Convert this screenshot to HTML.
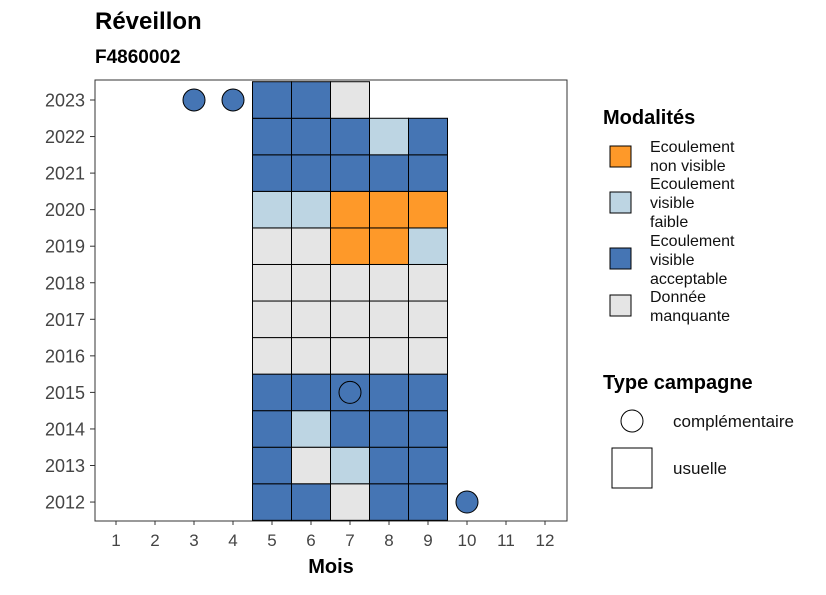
<!DOCTYPE html>
<html><head><meta charset="utf-8"><style>body{margin:0;background:#fff}svg{font-family:"Liberation Sans",sans-serif}</style></head>
<body>
<svg id="c" width="826" height="590">
<text x="95" y="29" font-size="24" font-weight="bold" fill="#000">Réveillon</text>
<text x="95" y="63" font-size="19" font-weight="bold" fill="#000">F4860002</text>
<rect x="95" y="80" width="472" height="441" fill="#fff" stroke="#333" stroke-width="1"/>
<g id="tiles"></g><g id="pts"></g><g id="axes"></g>
<text x="331" y="573" font-size="20" font-weight="bold" text-anchor="middle">Mois</text>
<g>
<text x="603" y="124" font-size="20" font-weight="bold">Modalités</text>
<rect x="610" y="146" width="21" height="21" fill="#fe9929" stroke="#000"/>
<text font-size="16" fill="#111"><tspan x="650" y="152">Ecoulement</tspan><tspan x="650" y="171">non visible</tspan></text>
<rect x="610" y="192" width="21" height="21" fill="#bdd5e3" stroke="#000"/>
<text font-size="16" fill="#111"><tspan x="650" y="189">Ecoulement</tspan><tspan x="650" y="208">visible</tspan><tspan x="650" y="227">faible</tspan></text>
<rect x="610" y="248" width="21" height="21" fill="#4575b4" stroke="#000"/>
<text font-size="16" fill="#111"><tspan x="650" y="246">Ecoulement</tspan><tspan x="650" y="265">visible</tspan><tspan x="650" y="284">acceptable</tspan></text>
<rect x="610" y="295" width="21" height="21" fill="#e5e5e5" stroke="#000"/>
<text font-size="16" fill="#111"><tspan x="650" y="302">Donnée</tspan><tspan x="650" y="321">manquante</tspan></text>
</g>
<g>
<text x="603" y="389" font-size="20" font-weight="bold">Type campagne</text>
<circle cx="632" cy="421" r="11" fill="#fff" stroke="#000"/>
<text x="673" y="427" font-size="17" fill="#111">complémentaire</text>
<rect x="612" y="448" width="40" height="40" fill="#fff" stroke="#000"/>
<text x="673" y="474" font-size="17" fill="#111">usuelle</text>
</g>
</svg>
<script>
const months=[1,2,3,4,5,6,7,8,9,10,11,12];
const years=[2012,2013,2014,2015,2016,2017,2018,2019,2020,2021,2022,2023];
// tile rows per year for months 5..9 (2023 months 5..7); codes: b=acceptable, l=faible, o=non visible, g=manquante
const tileMonths=[5,6,7,8,9];
const tileRows={2023:"bbg",2022:"bbblb",2021:"bbbbb",2020:"llooo",2019:"ggool",2018:"ggggg",2017:"ggggg",2016:"ggggg",2015:"bbbbb",2014:"blbbb",2013:"bglbb",2012:"bbgbb"};
const circleYears=[2023,2023,2015,2012];
const circleMonths=[3,4,7,10];
const colors={b:"#4575b4",l:"#bdd5e3",o:"#fe9929",g:"#e5e5e5"};
const NS="http://www.w3.org/2000/svg";
const x=m=>116+(m-1)*39, y=yr=>100+(2023-yr)*36.55;
const tw=39, th=36.55;
const T=document.getElementById('tiles'),P=document.getElementById('pts'),A=document.getElementById('axes');
function mk(t,a,p){const e=document.createElementNS(NS,t);for(const k in a)e.setAttribute(k,a[k]);p.appendChild(e);return e;}
for(const yr of years){const row=tileRows[yr];for(let i=0;i<row.length;i++){
 const r=mk('rect',{x:x(tileMonths[i])-tw/2,y:y(yr)-th/2,width:tw,height:th,fill:colors[row[i]],stroke:'#000','stroke-width':1},T);
 
 }}
for(let i=0;i<circleYears.length;i++){
 const c=mk('circle',{cx:x(circleMonths[i]),cy:y(circleYears[i]),r:11,fill:'#4575b4',stroke:'#000','stroke-width':1},P);
 
 }
for(const m of months){mk('line',{x1:x(m),x2:x(m),y1:521,y2:525,stroke:'#333'},A);
 const t=mk('text',{x:x(m),y:546,'font-size':17,'text-anchor':'middle',fill:'#444'},A);t.textContent=m;
 
 }
for(const yr of years){mk('line',{x1:90,x2:95,y1:y(yr),y2:y(yr),stroke:'#333'},A);
 const t=mk('text',{x:85,y:y(yr)+6.5,'font-size':18,'text-anchor':'end',fill:'#444'},A);t.textContent=yr;
 
 }
</script>
</body></html>
